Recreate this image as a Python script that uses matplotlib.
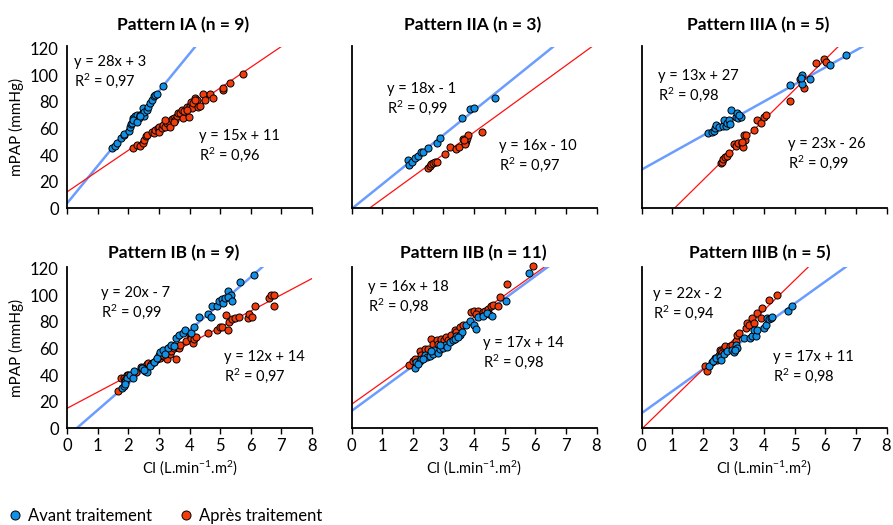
import numpy as np
import matplotlib
matplotlib.use('Agg')
import matplotlib.pyplot as plt

plt.rcParams['font.family'] = ['Lato', 'DejaVu Sans']
plt.rcParams['mathtext.fontset'] = 'custom'
plt.rcParams['mathtext.rm'] = 'Lato'
plt.rcParams['mathtext.it'] = 'Lato:italic'
plt.rcParams['mathtext.bf'] = 'Lato:bold'

# ---- data: (CI, mPAP) per pattern, before / after ----
ia_before_x = [1.47, 1.58, 1.63, 1.76, 1.85, 1.87, 2.01, 2.07, 2.09, 2.15, 2.17, 2.23, 2.28, 2.34, 2.39, 2.45,
               2.48, 2.50, 2.52, 2.61, 2.66, 2.72, 2.77, 2.83, 2.88, 2.93, 3.12, 2.12, 2.17, 2.28, 2.37]
ia_before_y = [45, 47, 49, 52.5, 55, 56, 58, 61, 63, 65, 67.5, 69, 70, 67.5, 70, 71,
               75, 69, 72, 74, 76, 79, 81, 84, 85, 86, 92, 64, 66, 65, 69]
ia_after_x = [2.17, 2.28, 2.39, 2.48, 2.52, 2.58, 2.61, 2.77, 2.83, 2.88, 2.96, 2.99, 3.02, 3.10, 3.15, 3.21,
              3.26, 3.32, 3.37, 3.42, 3.48, 3.53, 3.59, 3.64, 3.70, 3.75, 3.78, 3.83, 3.91, 3.97, 4.02, 4.04,
              4.08, 4.13, 4.18, 4.24, 4.29, 4.35, 4.43, 4.51, 4.67, 4.78, 5.09, 5.11, 5.33, 5.76, 4.18, 3.91,
              3.48, 3.21]
ia_after_y = [45, 47.5, 46.7, 48.7, 51.2, 54.5, 55, 57.5, 56.7, 58.7, 60, 61.2, 57.5, 60, 62.5, 61.2,
              63.7, 65, 61.2, 66.7, 67.5, 66.2, 69.2, 71.2, 71.2, 73.7, 67.5, 73.2, 76.2, 68.2, 76.7, 80,
              75, 78.7, 82.5, 81.2, 76.2, 76.7, 85.7, 81.2, 86.2, 83.2, 88.7, 90, 94.2, 100.7, 81.2, 73.7,
              65, 66.2]

iia_before_x = [1.85, 1.87, 1.96, 2.07, 2.17, 2.26, 2.34, 2.50, 2.79, 2.88, 3.62, 3.88, 3.99, 4.67]
iia_before_y = [36.2, 32.5, 35, 37.5, 39.2, 42, 42, 45, 48.7, 52.5, 68, 74.2, 75, 83]
iia_after_x = [2.50, 2.55, 2.61, 2.66, 2.72, 2.80, 3.04, 3.23, 3.40, 3.50, 3.64, 3.70, 3.73, 3.77, 3.80,
               4.27, 3.70, 3.67]
iia_after_y = [30, 31.7, 33, 33.7, 34.5, 35, 40.7, 45.7, 44.5, 45.7, 51.7, 49.2, 50.7, 52.5, 55,
               57.5, 48.2, 51.2]

iiia_before_x = [2.18, 2.29, 2.37, 2.39, 2.44, 2.53, 2.67, 2.71, 2.77, 2.80, 2.86, 2.88, 2.91, 3.07, 3.13,
                 3.15, 3.24, 4.85, 5.23, 5.25, 5.50, 6.14, 6.69, 5.20, 3.18]
iiia_before_y = [56.7, 57.5, 58.2, 60, 62.5, 60.7, 61.7, 66.2, 61.7, 64.2, 66.2, 63.2, 73.7, 68.7, 71.2,
                 67.5, 68.7, 92.5, 100, 93.7, 97, 107.5, 115, 97.5, 70]
iiia_after_x = [2.58, 2.62, 2.67, 2.72, 2.78, 2.87, 3.02, 3.10, 3.14, 3.27, 3.31, 3.35, 3.38, 3.42, 3.67,
                3.76, 3.89, 4.00, 4.08, 4.84, 5.17, 5.29, 5.71, 5.96, 6.04, 3.29]
iiia_after_y = [33.7, 35, 36.7, 38.7, 39.2, 41.2, 48.2, 47, 48.7, 48.7, 46.2, 55, 51.2, 55, 58.7,
                66.2, 64.2, 68.2, 70, 80.7, 97, 90.7, 109.2, 112, 110, 50]

ib_before_x = [1.80, 1.85, 1.90, 1.95, 2.05, 2.15, 2.20, 2.45, 2.60, 2.70, 2.85, 2.95, 3.05, 3.15, 3.30,
               3.40, 3.55, 3.65, 3.80, 3.85, 4.05, 4.15, 4.30, 4.60, 4.70, 4.75, 4.90, 4.95, 5.05, 5.10,
               5.15, 5.25, 5.35, 5.25, 5.40, 5.65, 6.10, 3.50, 3.20, 2.50, 1.90]
ib_before_y = [30, 32, 35, 38, 40, 38, 43, 45, 42, 47, 50, 53, 57, 59, 60,
               63, 68, 70, 72, 74, 72, 76, 84, 86, 84, 92, 92, 96, 97, 94,
               98, 103, 100, 99, 96, 110, 115, 62, 56, 44, 33]
ib_after_x = [1.65, 1.75, 1.85, 1.90, 1.95, 2.00, 2.25, 2.40, 2.45, 2.50, 2.55, 2.60, 2.65, 2.75, 2.85,
              2.95, 3.00, 3.05, 3.10, 3.15, 3.20, 3.25, 3.30, 3.35, 3.40, 3.45, 3.50, 3.55, 3.60, 3.65,
              3.70, 3.90, 4.00, 4.05, 4.10, 4.15, 4.20, 4.60, 4.90, 5.00, 5.05, 5.25, 5.20, 5.30, 5.40,
              5.50, 5.60, 5.90, 5.95, 6.05, 6.15, 6.60, 6.65, 6.75, 6.75, 3.15]
ib_after_y = [28, 38, 38, 36, 40, 40, 42, 46, 45, 46, 43, 48, 49, 48, 50,
              52, 55, 53, 57, 54, 58, 52, 60, 56, 58, 62, 60, 52, 61, 60,
              63, 66, 70, 68, 64, 67, 69, 72, 74, 76, 76, 74, 85, 80, 82,
              83, 84, 83, 86, 84, 92, 98, 100, 100, 92, 55]

iib_before_x = [2.08, 2.12, 2.23, 2.28, 2.39, 2.45, 2.55, 2.66, 2.71, 2.82, 2.90, 2.99, 3.04, 3.11, 3.20,
                3.31, 3.42, 3.53, 3.60, 3.75, 3.86, 4.00, 4.05, 4.13, 4.29, 4.43, 4.59, 5.03, 5.78, 2.61,
                2.88, 3.37, 3.47, 2.17, 2.33]
iib_before_y = [45.7, 49.5, 50.3, 52.3, 54.8, 53.5, 54.0, 56.0, 59.0, 56.5, 59.8, 60.5, 62.3, 61.1, 64.8,
                66.1, 69.1, 69.8, 72.4, 77.9, 80.6, 77.4, 74.9, 83.9, 84.7, 86.4, 84.7, 96.0, 116.8, 58.3,
                62.6, 67.3, 68.6, 48.2, 52.0]
iib_after_x = [1.87, 2.01, 2.08, 2.23, 2.28, 2.39, 2.50, 2.61, 2.66, 2.79, 2.82, 2.93, 3.02, 3.09, 3.15,
               3.24, 3.37, 3.42, 3.53, 3.64, 3.91, 3.99, 4.13, 4.29, 4.36, 4.45, 4.56, 4.61, 4.78, 4.86,
               5.08, 5.92, 4.07, 4.50]
iib_after_y = [47.7, 50.3, 52.0, 58.3, 55.3, 59.5, 59.5, 67.3, 63.6, 66.1, 63.6, 67.3, 66.1, 68.6, 66.1,
               69.8, 73.6, 72.4, 76.1, 77.4, 87.2, 88.4, 88.4, 87.2, 87.9, 89.7, 92.2, 92.9, 92.2, 98.5,
               108.5, 121.9, 86.0, 86.0]

iiib_before_x = [2.22, 2.33, 2.44, 2.55, 2.60, 2.68, 2.79, 2.96, 3.01, 3.07, 3.12, 3.36, 3.54, 3.62, 3.67,
                 3.73, 3.78, 4.00, 4.05, 4.11, 4.16, 4.22, 4.27, 4.77, 4.93, 3.04]
iiib_before_y = [46.5, 50.3, 52.8, 53.3, 51.5, 55.8, 57.8, 58.5, 57.0, 62.8, 60.3, 67.8, 67.8, 69.1, 73.6,
                 69.6, 74.1, 75.4, 77.9, 82.9, 82.2, 82.9, 83.4, 87.9, 92.2, 59.0]
iiib_after_x = [2.08, 2.14, 2.30, 2.41, 2.52, 2.55, 2.60, 2.68, 2.74, 2.88, 2.96, 3.07, 3.12, 3.18, 3.40,
                3.45, 3.51, 3.62, 3.67, 3.78, 3.89, 3.95, 4.16, 4.42, 2.47, 2.63]
iiib_after_y = [46.5, 43.2, 49.5, 52.8, 55.3, 59.0, 57.8, 60.3, 61.6, 61.6, 62.8, 65.3, 70.4, 71.6, 75.4,
                79.1, 77.9, 82.9, 79.1, 86.7, 82.9, 90.5, 96.7, 100.5, 51.5, 56.5]

titles = ['Pattern IA (n = 9)', 'Pattern IIA (n = 3)', 'Pattern IIIA (n = 5)',
          'Pattern IB (n = 9)', 'Pattern IIB (n = 11)', 'Pattern IIIB (n = 5)']

# trend lines as drawn (slope, intercept) and printed equations
before_fit = [(28.1, 3.7), (18.5, -0.5), (12.8, 29.0), (20.0, -6.3), (16.9, 13.0), (16.5, 11.3)]
after_fit = [(15.6, 12.3), (16.7, -9.7), (22.7, -24.4), (12.2, 15.0), (16.4, 18.0), (22.4, -0.7)]
eq_text = [('y = 28x + 3', 'y = 15x + 11'), ('y = 18x - 1', 'y = 16x - 10'), ('y = 13x + 27', 'y = 23x - 26'),
           ('y = 20x - 7', 'y = 12x + 14'), ('y = 16x + 18', 'y = 17x + 14'), ('y = 22x - 2', 'y = 17x + 11')]
r2_text = [('0,97', '0,96'), ('0,99', '0,97'), ('0,98', '0,99'),
           ('0,99', '0,97'), ('0,98', '0,98'), ('0,94', '0,98')]

before_x = [ia_before_x, iia_before_x, iiia_before_x, ib_before_x, iib_before_x, iiib_before_x]
before_y = [ia_before_y, iia_before_y, iiia_before_y, ib_before_y, iib_before_y, iiib_before_y]
after_x = [ia_after_x, iia_after_x, iiia_after_x, ib_after_x, iib_after_x, iiib_after_x]
after_y = [ia_after_y, iia_after_y, iiia_after_y, ib_after_y, iib_after_y, iiib_after_y]

BLUE = '#1190e6'
RED = '#f23c0c'
BLUE_LINE = '#6b9dff'
RED_LINE = '#ff1010'

W, H = 893, 525
fig = plt.figure(figsize=(W / 100, H / 100), dpi=100)

# axes boxes in pixels: (left, top, width, height)
col_left = [67, 351.5, 641.5]
row_top = [46.5, 266.7]
ax_w = 245
ax_h = [161.8, 161.6]
title_cx = [[183, 473, 758], [174, 473, 760]]
title_cy = [25, 253]
# equation label anchors in pixels (left, first line centre)
eq_pos = [[(74, 62), (199, 136)], [(387, 89), (499, 146)], [(658, 76), (788, 144)],
          [(101, 293), (224, 357)], [(368, 287), (483, 343)], [(653, 294), (773, 357)]]

YMAX = 121.5
for i in range(6):
    r, c = divmod(i, 3)
    l, t = col_left[c], row_top[r]
    ax = fig.add_axes([l / W, 1 - (t + ax_h[r]) / H, ax_w / W, ax_h[r] / H])
    ax.set_xlim(0, 8)
    ax.set_ylim(0, YMAX)
    for s in ['top', 'right']:
        ax.spines[s].set_visible(False)
    for s in ['left', 'bottom']:
        ax.spines[s].set_linewidth(1.3)
    ax.set_xticks(np.arange(0, 9, 1))
    ax.set_yticks(np.arange(0, 121, 20))
    ax.tick_params(axis='x', direction='out', length=4, width=1, labelsize=12, pad=3)
    ax.tick_params(axis='y', direction='out', length=0, labelsize=12, pad=6)
    ax.set_yticks([0], minor=True)
    ax.tick_params(axis='y', which='minor', length=4, width=1)
    if r == 0:
        ax.tick_params(axis='x', labelbottom=False)
    else:
        ax.set_xlabel('CI (L.min$^{-1}$.m$^{2}$)', fontsize=10.5, labelpad=3)
    if c != 0:
        ax.tick_params(axis='y', labelleft=False)
    else:
        ax.set_ylabel('mPAP (mmHg)', fontsize=11, labelpad=4)

    xs = np.linspace(0, 8, 200)
    sb, ib_ = before_fit[i]
    sa, ia_ = after_fit[i]
    ax.plot(xs, sb * xs + ib_, color=BLUE_LINE, lw=1.8, zorder=2, clip_on=True)
    ax.plot(xs, sa * xs + ia_, color=RED_LINE, lw=0.9, zorder=2, clip_on=True)
    ax.scatter(after_x[i], after_y[i], s=26, c=RED, edgecolors='black', linewidths=0.7, zorder=3,
               clip_on=False)
    ax.scatter(before_x[i], before_y[i], s=26, c=BLUE, edgecolors='black', linewidths=0.7, zorder=4,
               clip_on=False)

    fig.text(title_cx[r][c] / W, 1 - title_cy[r] / H, titles[i], ha='center', va='center',
             fontsize=12.5, fontweight='bold')
    for k in range(2):
        px, py = eq_pos[i][k]
        fig.text(px / W, 1 - py / H, eq_text[i][k], ha='left', va='center', fontsize=10.5)
        fig.text(px / W, 1 - (py + 19) / H, 'R$^{2}$ = ' + r2_text[i][k], ha='left', va='center',
                 fontsize=10.5)

h1 = plt.Line2D([], [], ls='', marker='o', ms=6.5, mfc=BLUE, mec='black', mew=0.7)
h2 = plt.Line2D([], [], ls='', marker='o', ms=6.5, mfc=RED, mec='black', mew=0.7)
fig.legend([h1, h2], ['Avant traitement', 'Après traitement'], loc='center left',
           bbox_to_anchor=(0 / W, 1 - 516 / H), ncol=2, frameon=False, fontsize=12,
           handletextpad=0.3, columnspacing=1.5, handlelength=1.0, borderaxespad=0)

fig.savefig('out.png', dpi=100)
